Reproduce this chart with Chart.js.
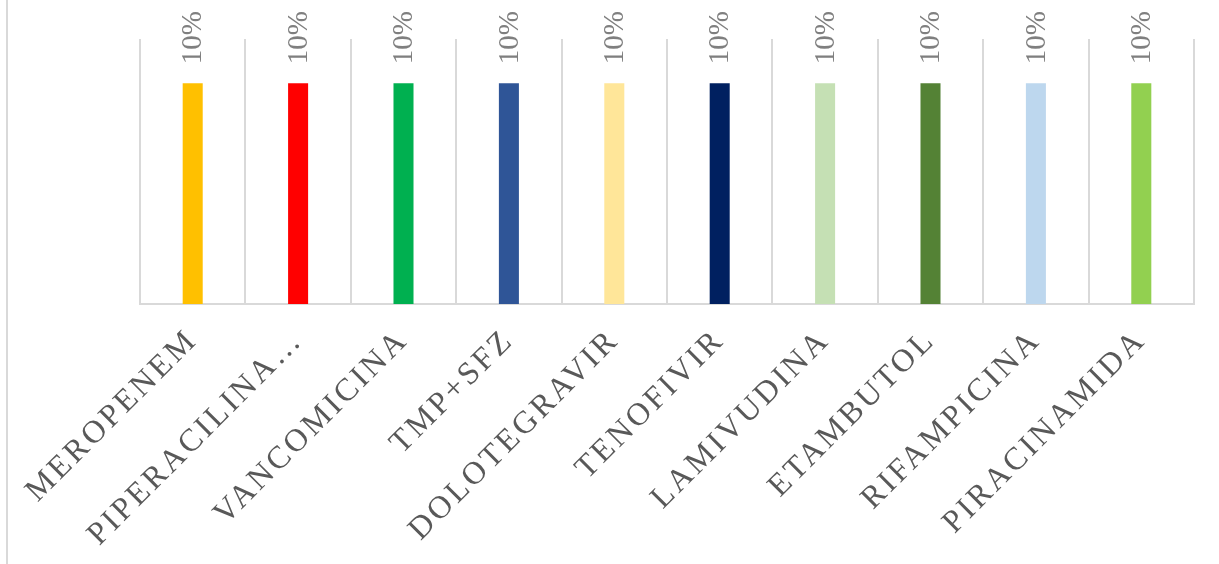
<!DOCTYPE html>
<html>
<head>
<meta charset="utf-8">
<script src="https://cdn.jsdelivr.net/npm/chart.js@4/dist/chart.umd.min.js"></script>
<style>
  html, body { margin: 0; padding: 0; background: #ffffff; }
  #wrap { position: relative; width: 1219px; height: 564px; }
  #edge { position: absolute; left: 6px; top: 0; width: 2px; height: 564px; background: #d9d9d9; }
  canvas { position: absolute; left: 0; top: 0; }
</style>
</head>
<body>
<div id="wrap">
  <div id="edge"></div>
  <canvas id="chart" width="1219" height="564"></canvas>
</div>
<script>
// Medicamentos y porcentaje de uso
const categories = ['MEROPENEM', 'PIPERACILINA…', 'VANCOMICINA', 'TMP+SFZ', 'DOLOTEGRAVIR',
                    'TENOFIVIR', 'LAMIVUDINA', 'ETAMBUTOL', 'RIFAMPICINA', 'PIRACINAMIDA'];
const values = [10, 10, 10, 10, 10, 10, 10, 10, 10, 10];
const barColors = ['#FFC000', '#FF0000', '#00B050', '#2F5597', '#FFE699',
                   '#002060', '#C5E0B4', '#548235', '#BDD7EE', '#92D050'];

const serif = '"Liberation Serif", "Times New Roman", serif';
const labelSpacing = '3px';

// Spaced capitals on the category axis
const spacingPlugin = {
  id: 'spacing',
  beforeUpdate(chart) { chart.ctx.letterSpacing = labelSpacing; },
  beforeLayout(chart) { chart.ctx.letterSpacing = labelSpacing; },
  beforeDraw(chart) { chart.ctx.letterSpacing = labelSpacing; }
};

// Vertical value labels above each bar
const valueLabels = {
  id: 'valueLabels',
  afterDatasetsDraw(chart) {
    const ctx = chart.ctx;
    const meta = chart.getDatasetMeta(0);
    ctx.save();
    ctx.letterSpacing = '0px';
    ctx.font = '29px ' + serif;
    ctx.fillStyle = '#7f7f7f';
    ctx.textAlign = 'left';
    ctx.textBaseline = 'middle';
    meta.data.forEach((bar, i) => {
      ctx.save();
      ctx.translate(bar.x + 1, bar.y - 19);
      ctx.rotate(-Math.PI / 2);
      ctx.fillText(values[i] + '%', 0, 0);
      ctx.restore();
    });
    ctx.restore();
  }
};

new Chart(document.getElementById('chart'), {
  type: 'bar',
  data: {
    labels: categories,
    datasets: [{
      data: values,
      backgroundColor: barColors,
      borderWidth: 0,
      categoryPercentage: 1,
      barPercentage: 0.19
    }]
  },
  options: {
    responsive: false,
    animation: false,
    layout: { padding: { left: 140, right: 25, top: 39, bottom: 0 } },
    plugins: { legend: { display: false }, tooltip: { enabled: false } },
    scales: {
      x: {
        grid: { color: '#d9d9d9', lineWidth: 2, drawTicks: false, offset: true },
        border: { color: '#d9d9d9', width: 2 },
        ticks: {
          minRotation: 45,
          maxRotation: 45,
          autoSkip: false,
          padding: 18,
          color: '#595959',
          font: { family: serif, size: 32 }
        },
        afterFit(scale) { scale.height = 260; }
      },
      y: { display: false, min: 0, max: 12 }
    }
  },
  plugins: [spacingPlugin, valueLabels]
});
</script>
</body>
</html>
